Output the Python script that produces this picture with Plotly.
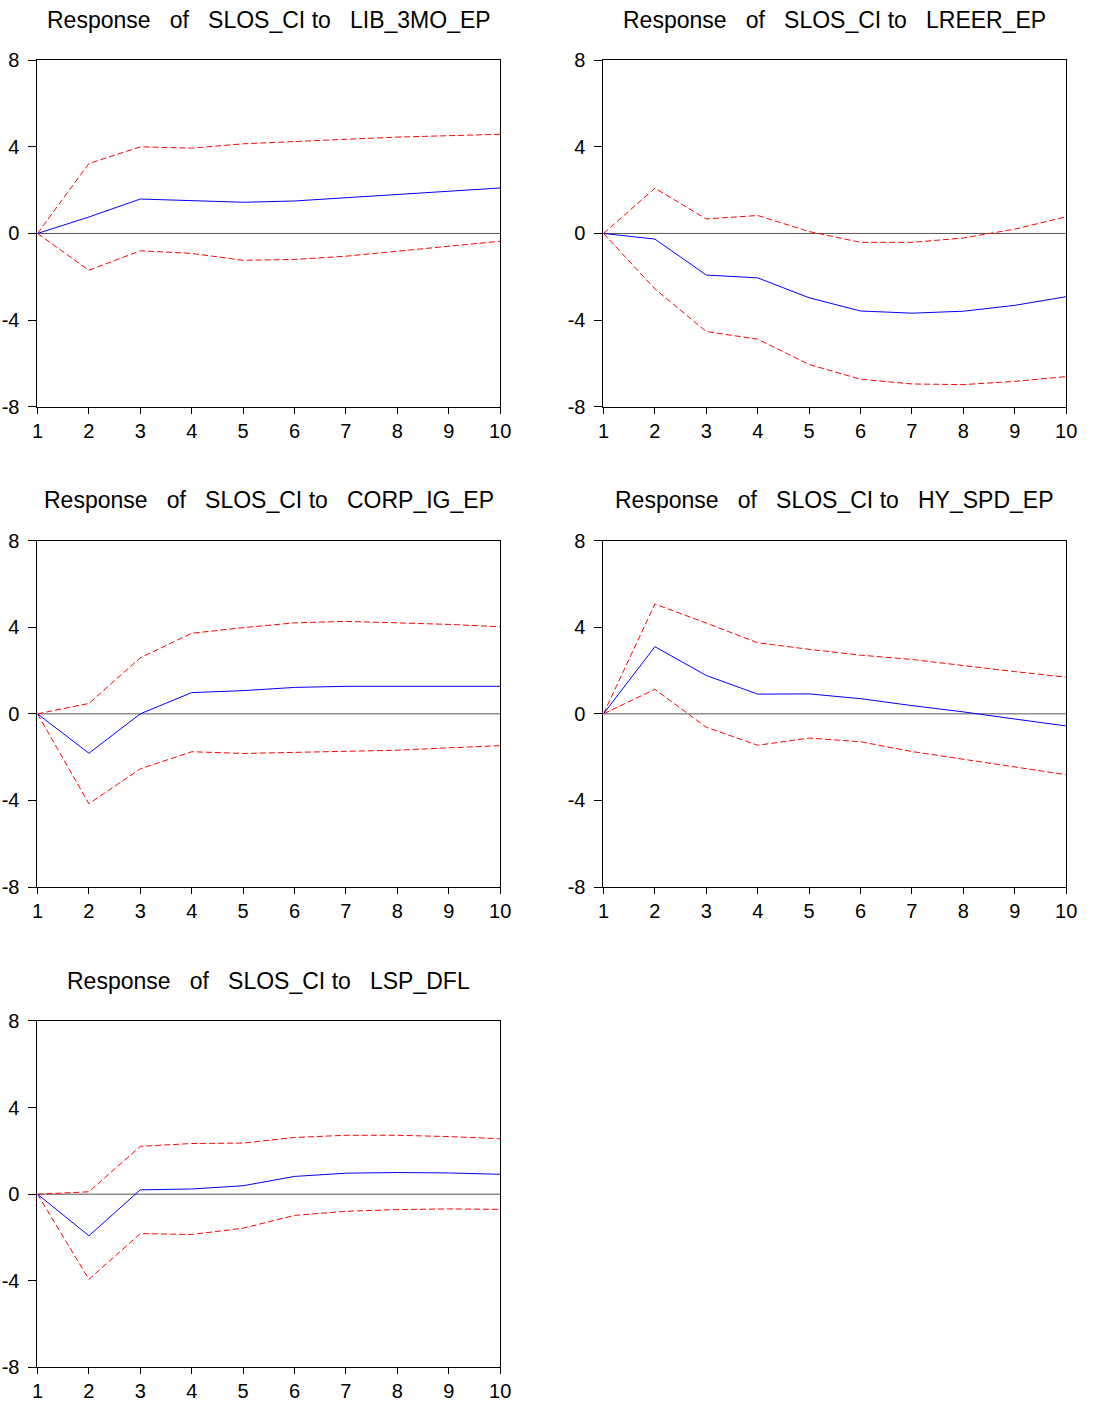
import plotly.graph_objects as go

# The page body keeps its default 8px margin, so the figure is sized to fill
# a 1102x1422 page exactly and all positions below are page pixels.
PAGE_W, PAGE_H = 1102, 1422
BODY_MARGIN = 8
W, H = PAGE_W - 2 * BODY_MARGIN, PAGE_H - 2 * BODY_MARGIN

periods = [1, 2, 3, 4, 5, 6, 7, 8, 9, 10]

titles = [
    "Response   of   SLOS_CI to   LIB_3MO_EP",
    "Response   of   SLOS_CI to   LREER_EP",
    "Response   of   SLOS_CI to   CORP_IG_EP",
    "Response   of   SLOS_CI to   HY_SPD_EP",
    "Response   of   SLOS_CI to   LSP_DFL",
]

# impulse responses (blue) and +/- 2 S.E. bands (red dashed)
resp_lib = [0, 0.76, 1.59, 1.52, 1.44, 1.50, 1.65, 1.82, 1.98, 2.10]
upper_lib = [0, 3.23, 4.00, 3.94, 4.14, 4.23, 4.35, 4.45, 4.53, 4.58]
lower_lib = [0, -1.70, -0.80, -0.92, -1.24, -1.20, -1.05, -0.82, -0.58, -0.36]

resp_lreer = [0, -0.26, -1.92, -2.05, -2.97, -3.58, -3.68, -3.59, -3.32, -2.92]
upper_lreer = [0, 2.09, 0.67, 0.83, 0.09, -0.41, -0.41, -0.21, 0.20, 0.77]
lower_lreer = [0, -2.56, -4.53, -4.88, -6.05, -6.73, -6.95, -6.98, -6.83, -6.61]

resp_corp = [0, -1.82, 0.0, 0.98, 1.07, 1.22, 1.27, 1.27, 1.27, 1.27]
upper_corp = [0, 0.48, 2.59, 3.72, 3.98, 4.20, 4.27, 4.20, 4.13, 4.02]
lower_corp = [0, -4.15, -2.54, -1.75, -1.83, -1.77, -1.72, -1.68, -1.57, -1.47]

resp_hy = [0, 3.10, 1.77, 0.91, 0.92, 0.70, 0.38, 0.09, -0.24, -0.56]
upper_hy = [0, 5.07, 4.19, 3.28, 2.98, 2.71, 2.51, 2.22, 1.95, 1.69]
lower_hy = [0, 1.13, -0.62, -1.45, -1.12, -1.29, -1.74, -2.10, -2.47, -2.81]

resp_lsp = [0, -1.92, 0.20, 0.24, 0.39, 0.82, 0.97, 1.00, 0.98, 0.92]
upper_lsp = [0, 0.11, 2.21, 2.34, 2.36, 2.62, 2.72, 2.72, 2.66, 2.56]
lower_lsp = [0, -3.93, -1.82, -1.86, -1.57, -0.98, -0.79, -0.71, -0.68, -0.70]

y_ticks = [-8, -4, 0, 4, 8]
y_tick_text = ["-8", "-4", "0", "4", "8"]

panels = [
    (resp_lib, upper_lib, lower_lib),
    (resp_lreer, upper_lreer, lower_lreer),
    (resp_corp, upper_corp, lower_corp),
    (resp_hy, upper_hy, lower_hy),
    (resp_lsp, upper_lsp, lower_lsp),
]

# panel frames in page pixels: (left, right) and (top, bottom)
col_px = [(40, 510), (615, 1085)]
row_px = [(58, 410), (546, 898), (1034, 1386)]


def fx(px):
    return (px - BODY_MARGIN) / W


def fy(py):
    return 1 - (py - BODY_MARGIN) / H


FONT = "Liberation Sans, Arial, sans-serif"

fig = go.Figure()
layout = dict(
    width=W, height=H,
    margin=dict(l=0, r=0, t=0, b=0),
    paper_bgcolor="white", plot_bgcolor="white",
    showlegend=False,
    font=dict(family=FONT, color="black", size=20),
    annotations=[],
    shapes=[],
)

for i, (resp, up, lo) in enumerate(panels):
    r, c = divmod(i, 2)
    xl, xr = col_px[c]
    yt, yb = row_px[r]
    k = i + 1
    xa = "x" if k == 1 else f"x{k}"
    ya = "y" if k == 1 else f"y{k}"

    fig.add_trace(go.Scatter(x=periods, y=up, mode="lines", xaxis=xa, yaxis=ya,
                             line=dict(color="#ff0000", width=1, dash="6px,3px")))
    fig.add_trace(go.Scatter(x=periods, y=lo, mode="lines", xaxis=xa, yaxis=ya,
                             line=dict(color="#ff0000", width=1, dash="6px,3px")))
    fig.add_trace(go.Scatter(x=periods, y=resp, mode="lines", xaxis=xa, yaxis=ya,
                             line=dict(color="#0000ff", width=1)))

    axis_common = dict(
        showgrid=False, zeroline=False, showline=True, linecolor="black",
        linewidth=1, mirror=True, ticks="outside", tickcolor="black",
        tickfont=dict(family=FONT, size=20, color="black"),
    )
    layout["xaxis" if k == 1 else f"xaxis{k}"] = dict(
        axis_common, domain=[fx(xl), fx(xr)], range=[1, 10],
        tickvals=periods, ticklen=6, anchor=ya,
    )
    layout["yaxis" if k == 1 else f"yaxis{k}"] = dict(
        axis_common, domain=[fy(yb), fy(yt)], range=[-8, 8],
        tickvals=y_ticks, ticktext=y_tick_text, ticklen=8,
        ticklabelstandoff=5, anchor=xa,
    )
    # zero reference line
    layout["shapes"].append(dict(
        type="line", xref=f"{xa} domain", yref=ya, x0=0, x1=1, y0=0, y1=0,
        line=dict(color="#555555", width=1), layer="below",
    ))
    layout["annotations"].append(dict(
        text=titles[i], xref="paper", yref="paper",
        x=fx((xl + xr) / 2), y=fy(yt - 41),
        xanchor="center", yanchor="middle", showarrow=False,
        font=dict(family=FONT, size=23, color="black"),
    ))

fig.update_layout(**layout)
fig.write_html("out.html")
